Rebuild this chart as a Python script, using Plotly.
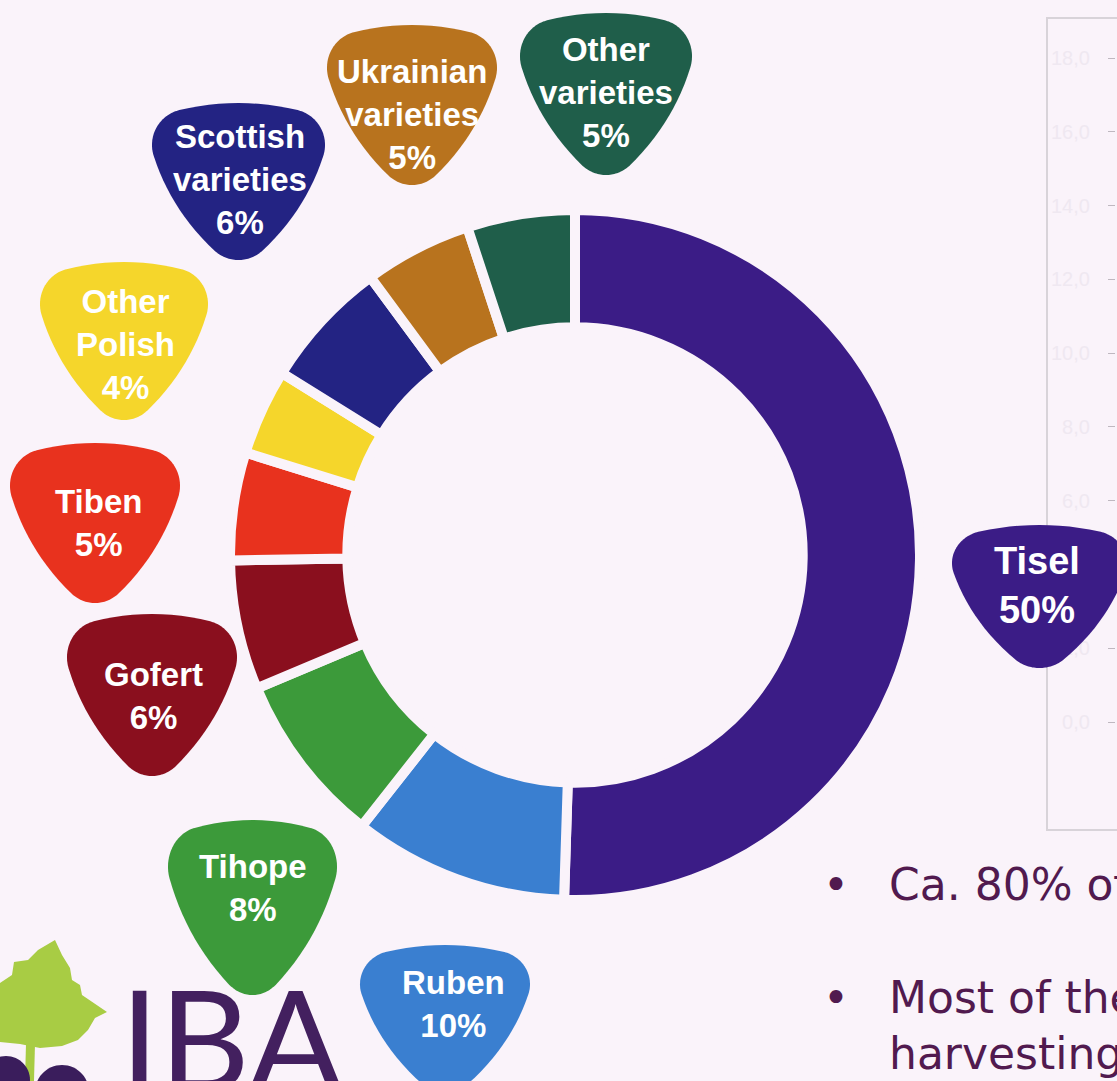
import math
import plotly.graph_objects as go

W, H = 1117, 1081
BG = "#FAF3FA"

# ---------------- data ----------------
varieties = ["Tisel", "Ruben", "Tihope", "Gofert", "Tiben", "Other Polish",
             "Scottish varieties", "Ukrainian varieties", "Other varieties"]
shares = [50, 10, 8, 6, 5, 4, 6, 5, 5]
colors = ["#3B1C86", "#3A7FD0", "#3C9A3A", "#8A0F1E", "#E8321E", "#F5D62B",
          "#232383", "#B8731E", "#1F5E4A"]

axis_values = [0, 2, 4, 6, 8, 10, 12, 14, 16, 18]
axis_labels = ["0,0", "2,0", "4,0", "6,0", "8,0", "10,0", "12,0", "14,0", "16,0", "18,0"]

bullet_lines = ["Ca. 80% of", "Most of the", "harvesting"]
logo_text = "IBA"

# ---------------- layout helpers (pixel -> paper) ----------------
def px(x):
    return x / W

def py(y):
    return 1 - y / H

def path_from_pixels(points):
    return "M " + " L ".join(f"{px(a):.5f},{py(b):.5f}" for a, b in points) + " Z"

def blob_path(x0, y0, x1, y1, r=0.7, bulge=0.12, n=160):
    # inner triangle (y down) with slightly bulging edges, then rounded by a disk of radius r
    A, B, C = (-1.0, -0.55), (1.0, -0.55), (0.0, 1.0)
    cxm = (A[0] + B[0] + C[0]) / 3; cym = (A[1] + B[1] + C[1]) / 3
    inner = []
    for P, Q in [(A, B), (B, C), (C, A)]:
        mx, my = (P[0] + Q[0]) / 2, (P[1] + Q[1]) / 2
        dx, dy = mx - cxm, my - cym
        L = math.hypot(dx, dy)
        ctrl = (mx + dx / L * bulge * 2, my + dy / L * bulge * 2)
        for j in range(60):
            s = j / 60
            inner.append(((1 - s) ** 2 * P[0] + 2 * s * (1 - s) * ctrl[0] + s * s * Q[0],
                          (1 - s) ** 2 * P[1] + 2 * s * (1 - s) * ctrl[1] + s * s * Q[1]))
    raw = []
    for i in range(n):
        th = 2 * math.pi * i / n
        ux, uy = math.cos(th), math.sin(th)
        p = max(inner, key=lambda q: q[0] * ux + q[1] * uy)
        raw.append((p[0] + r * ux, p[1] + r * uy))
    mnx = min(p[0] for p in raw); mxx = max(p[0] for p in raw)
    mny = min(p[1] for p in raw); mxy = max(p[1] for p in raw)
    pts = [(x0 + (a - mnx) / (mxx - mnx) * (x1 - x0),
            y0 + (b - mny) / (mxy - mny) * (y1 - y0)) for a, b in raw]
    return path_from_pixels(pts)

def circle_path(cx, cy, r, n=60):
    return path_from_pixels([(cx + r * math.cos(2 * math.pi * i / n),
                              cy + r * math.sin(2 * math.pi * i / n)) for i in range(n)])

# label badge placement (pixels): x0, y0, x1, y1, text centre x, text centre y, font size
badge_layout = {
    "Tisel": (952, 525, 1127, 668, 1037, 585, 38),
    "Ruben": (360, 945, 530, 1092, 453, 1004, 33),
    "Tihope": (168, 820, 337, 995, 253, 888, 33),
    "Gofert": (67, 614, 237, 776, 153, 696, 33),
    "Tiben": (10, 443, 180, 603, 98, 523, 33),
    "Other Polish": (40, 262, 208, 420, 125, 344, 33),
    "Scottish varieties": (152, 103, 325, 260, 240, 180, 33),
    "Ukrainian varieties": (327, 25, 497, 185, 412, 114, 33),
    "Other varieties": (520, 13, 692, 175, 606, 92, 33),
}

# ---------------- figure ----------------
cx, cy, R = 575, 555, 345
fig = go.Figure()
fig.add_trace(go.Pie(
    values=shares, labels=varieties, sort=False, direction="clockwise", rotation=0,
    hole=0.66, textinfo="none", showlegend=False, hoverinfo="label+percent",
    marker=dict(colors=colors, line=dict(color=BG, width=10)),
    domain=dict(x=[px(cx - R), px(cx + R)], y=[py(cy + R), py(cy - R)]),
))

# faint background axis on the right
fig.add_trace(go.Scatter(x=[], y=[], xaxis="x2", yaxis="y2", showlegend=False))

shapes = []
annotations = []

# frame of the background chart
shapes.append(dict(type="rect", xref="paper", yref="paper", x0=px(1047), x1=px(1130),
                   y0=py(830), y1=py(18), line=dict(color="#D8D3D9", width=2),
                   fillcolor="rgba(0,0,0,0)", layer="below"))

for name, val, col in zip(varieties, shares, colors):
    x0, y0, x1, y1, tx, ty, fs = badge_layout[name]
    shapes.append(dict(type="path", xref="paper", yref="paper", path=blob_path(x0, y0, x1, y1),
                       fillcolor=col, line=dict(width=0), layer="above"))
    annotations.append(dict(
        x=px(tx), y=py(ty), xref="paper", yref="paper", showarrow=False,
        xanchor="center", yanchor="middle",
        text="<b>" + name.replace(" ", "<br>") + f"<br>{val}%</b>",
        font=dict(family="Liberation Sans, Arial, sans-serif", size=fs, color="white"),
    ))

# bullets
TXT = "#511A4F"
bullet_font = dict(family="DejaVu Sans, sans-serif", size=44, color=TXT)
for yy, txt, bullet in [(884, bullet_lines[0], True), (997, bullet_lines[1], True),
                        (1053, bullet_lines[2], False)]:
    if bullet:
        annotations.append(dict(x=px(836), y=py(yy), xref="paper", yref="paper", showarrow=False,
                                xanchor="center", yanchor="middle", text="•", font=bullet_font))
    annotations.append(dict(x=px(887), y=py(yy), xref="paper", yref="paper", showarrow=False,
                            xanchor="left", yanchor="middle", text=txt, font=bullet_font))

# logo
leaf = [(0, 983), (12, 975), (14, 962), (28, 960), (38, 950), (55, 940), (62, 955), (70, 968),
        (72, 980), (80, 985), (82, 995), (107, 1012), (95, 1018), (88, 1030), (78, 1040),
        (62, 1046), (40, 1048), (20, 1044), (0, 1042)]
shapes.append(dict(type="path", xref="paper", yref="paper", path=path_from_pixels(leaf),
                   fillcolor="#A8CC44", line=dict(width=0), layer="above"))
stem = [(26, 1044), (35, 1044), (34, 1081), (25, 1081)]
shapes.append(dict(type="path", xref="paper", yref="paper", path=path_from_pixels(stem),
                   fillcolor="#A8CC44", line=dict(width=0), layer="above"))
shapes.append(dict(type="path", xref="paper", yref="paper", path=circle_path(6, 1080, 24),
                   fillcolor="#3A1D5C", line=dict(width=0), layer="above"))
shapes.append(dict(type="path", xref="paper", yref="paper", path=circle_path(62, 1092, 27),
                   fillcolor="#3A1D5C", line=dict(width=0), layer="above"))
annotations.append(dict(x=px(118), y=py(951), xref="paper", yref="paper", showarrow=False,
                        xanchor="left", yanchor="top", text=logo_text,
                        font=dict(family="Lato, sans-serif", size=140, color="#43205F")))

ymin = -(830 - 722) / ((722 - 58) / 18)
ymax = 18 + (58 - 18) / ((722 - 58) / 18)

fig.update_layout(
    width=W, height=H, margin=dict(l=0, r=0, t=0, b=0),
    paper_bgcolor=BG, plot_bgcolor="rgba(0,0,0,0)",
    shapes=shapes, annotations=annotations, showlegend=False,
    xaxis=dict(visible=False), yaxis=dict(visible=False),
    xaxis2=dict(domain=[0.999, 1.0], anchor="y2", visible=False, range=[0, 1]),
    yaxis2=dict(domain=[py(830), py(18)], anchor="x2", range=[ymin, ymax],
                tickvals=axis_values, ticktext=axis_labels, ticks="outside", ticklen=7,
                tickcolor="#BFB8C0", showgrid=False, zeroline=False, showline=False,
                ticklabelstandoff=14,
                tickfont=dict(family="Liberation Sans, Arial", size=20, color="#EFE8F1")),
)

fig.write_html("out.html", config={"displayModeBar": False},
               post_script="document.body.style.margin='0';document.body.style.overflow='hidden';document.body.style.background='" + BG + "';")
